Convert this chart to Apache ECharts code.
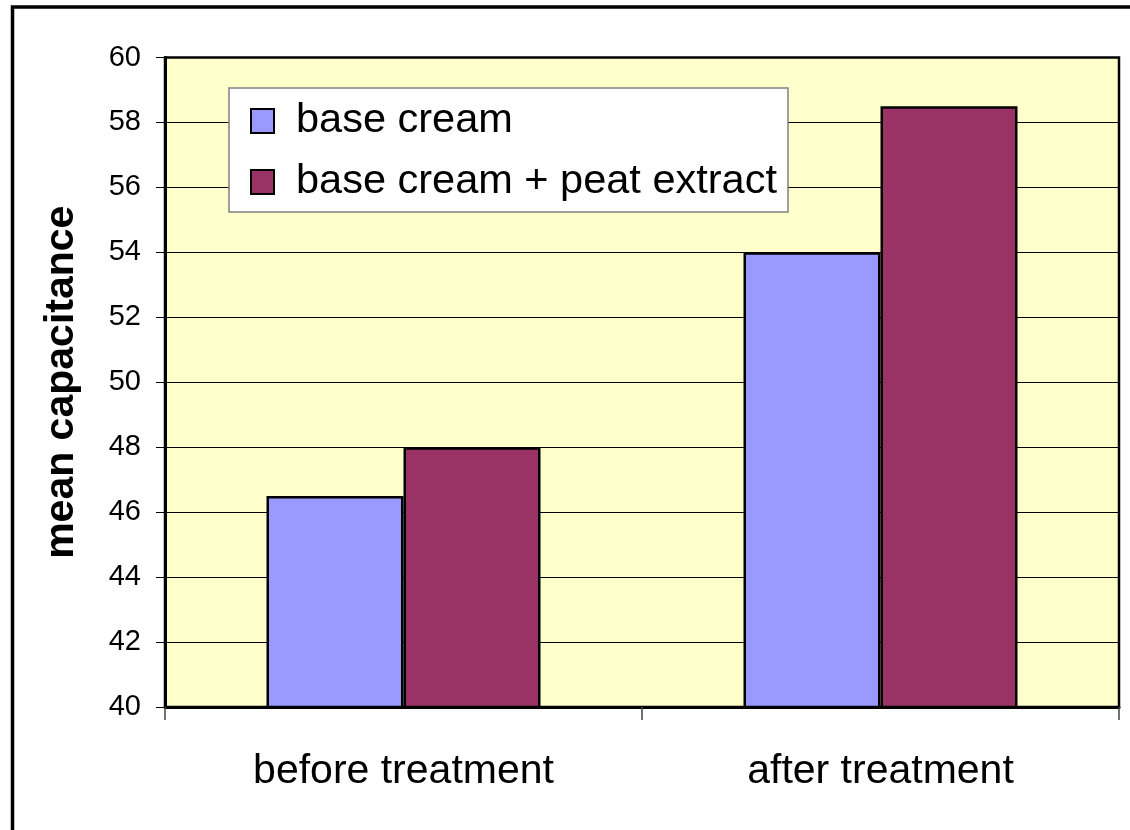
<!DOCTYPE html>
<html>
<head>
<meta charset="utf-8">
<style>
  html, body { margin: 0; padding: 0; background: #ffffff; }
  #chart { width: 1130px; height: 830px; }
</style>
<script src="https://cdn.jsdelivr.net/npm/echarts@6/dist/echarts.min.js"></script>
</head>
<body>
<div id="chart"></div>
<script>
const categories = ['before treatment', 'after treatment'];
const seriesNames = ['base cream', 'base cream + peat extract'];
const baseCream = [46.5, 54];
const peatExtract = [48, 58.5];
const yMin = 40, yMax = 60, yStep = 2;
const colors = ['#9999FF', '#993366'];
const yTitle = 'mean capacitance';

const FONT = '"Liberation Sans", Arial, sans-serif';
const chart = echarts.init(document.getElementById('chart'), null, { renderer: 'canvas' });

chart.setOption({
  animation: false,
  backgroundColor: '#ffffff',
  color: colors,
  textStyle: { fontFamily: FONT },
  graphic: [{
    type: 'rect',
    shape: { x: 12.5, y: 7, width: 1140, height: 840 },
    style: { fill: 'none', stroke: '#000', lineWidth: 3.5 },
    z: 100
  }],
  grid: {
    left: 165, right: 11, top: 57.5, bottom: 123,
    show: true, backgroundColor: '#FFFFCC', borderColor: '#000', borderWidth: 2.5,
    containLabel: false
  },
  legend: {
    orient: 'vertical',
    left: 229, top: 88,
    padding: [12, 11, 9, 21],
    itemGap: 19,
    itemWidth: 23, itemHeight: 24,
    icon: 'rect',
    backgroundColor: '#ffffff',
    borderColor: '#808080', borderWidth: 1.5,
    textStyle: { fontFamily: FONT, fontSize: 41.5, lineHeight: 41, color: '#000', padding: [0, 0, 0, 17] },
    itemStyle: { borderColor: '#000', borderWidth: 2 },
    data: seriesNames
  },
  xAxis: {
    type: 'category',
    data: categories,
    boundaryGap: true,
    axisLine: { lineStyle: { color: '#000', width: 3 } },
    axisTick: { show: true, length: 13, lineStyle: { color: '#444', width: 1.5 } },
    axisLabel: { fontFamily: FONT, fontSize: 41, color: '#000', margin: 44 },
    splitLine: { show: false }
  },
  yAxis: {
    type: 'value',
    min: yMin, max: yMax, interval: yStep,
    name: yTitle,
    nameLocation: 'middle',
    nameRotate: 90,
    nameGap: 83,
    nameTextStyle: { fontFamily: FONT, fontSize: 41, fontWeight: 'bold', color: '#000' },
    axisLine: { show: true, lineStyle: { color: '#000', width: 3 } },
    axisTick: { show: true, length: 9, lineStyle: { color: '#000', width: 1 } },
    axisLabel: { fontFamily: FONT, fontSize: 29, color: '#000', margin: 24 },
    splitLine: { show: true, lineStyle: { color: '#000', width: 1 } }
  },
  series: [
    {
      name: seriesNames[0], type: 'bar', data: baseCream,
      barWidth: 137, barGap: '0%',
      itemStyle: { color: colors[0], borderColor: '#000', borderWidth: 2.5 }
    },
    {
      name: seriesNames[1], type: 'bar', data: peatExtract,
      barWidth: 137, barGap: '0%',
      itemStyle: { color: colors[1], borderColor: '#000', borderWidth: 2.5 }
    }
  ]
});
</script>
</body>
</html>
